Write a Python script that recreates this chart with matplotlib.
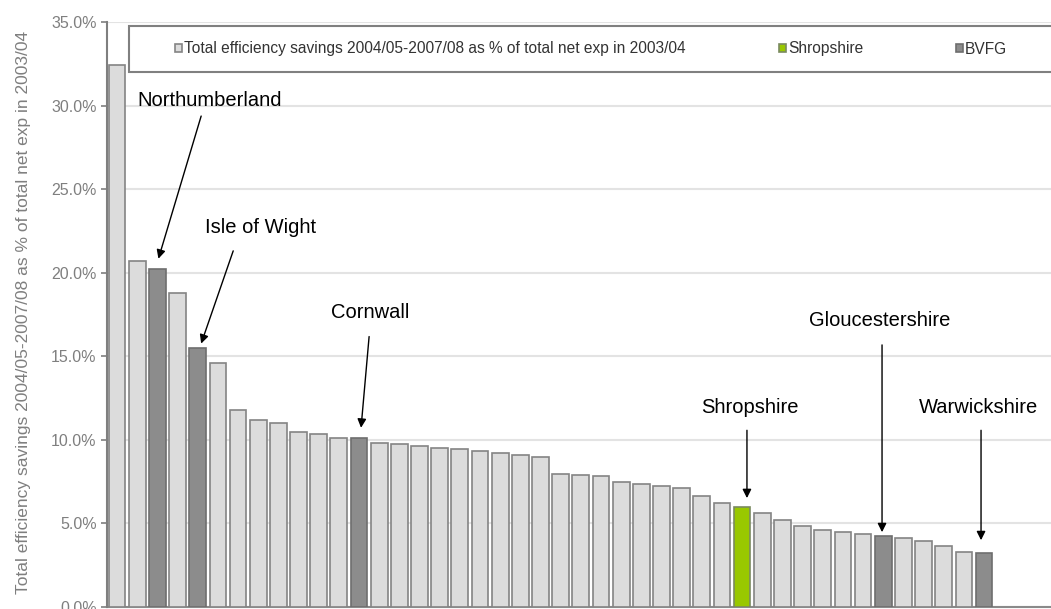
import matplotlib
matplotlib.use("Agg")
import matplotlib.pyplot as plt
from matplotlib.patches import Rectangle
from matplotlib.ticker import FuncFormatter

plt.rcParams['font.family'] = ['Liberation Sans', 'DejaVu Sans']

# efficiency savings 2004/05-2007/08 as % of net exp 2003/04, sorted
savings = [32.4, 20.7, 20.2, 18.8, 15.5, 14.6, 11.8, 11.15, 11.0, 10.45,
           10.35, 10.1, 10.1, 9.8, 9.72, 9.64, 9.52, 9.46, 9.3, 9.22,
           9.08, 8.95, 7.95, 7.87, 7.81, 7.45, 7.37, 7.25, 7.11, 6.61,
           6.18, 5.94, 5.62, 5.18, 4.82, 4.62, 4.48, 4.34, 4.26, 4.12,
           3.92, 3.63, 3.29, 3.19]
# group of each bar: 0 = all councils, 1 = Shropshire, 2 = BVFG
group = [0, 0, 2, 0, 2, 0, 0, 0, 0, 0,
         0, 0, 2, 0, 0, 0, 0, 0, 0, 0,
         0, 0, 0, 0, 0, 0, 0, 0, 0, 0,
         0, 1, 0, 0, 0, 0, 0, 0, 2, 0,
         0, 0, 0, 2]
series_names = ["Total efficiency savings 2004/05-2007/08 as % of total net exp in 2003/04",
                "Shropshire", "BVFG"]
yticks = [0, 5, 10, 15, 20, 25, 30, 35]

callouts = ["Northumberland", "Isle of Wight", "Cornwall",
            "Shropshire", "Gloucestershire", "Warwickshire"]

# layout of the callouts (data coords): label centre, arrow start, arrow tip
label_pos = [(4.6, 30.3), (7.1, 22.7), (12.56, 17.6),
             (31.4, 11.93), (37.84, 17.13), (42.72, 11.93)]
arrow_from = [(4.17, 29.37), (5.76, 21.3), (12.5, 16.17),
              (31.24, 10.56), (37.94, 15.67), (42.85, 10.56)]
arrow_to = [(2.05, 20.83), (4.17, 15.75), (12.1, 10.71),
            (31.24, 6.5), (37.94, 4.46), (42.85, 3.98)]

fill = ['#dcdcdc', '#99c800', '#8c8c8c']
edge = ['#848484', '#7a8a60', '#6e6e6e']

fig = plt.figure(figsize=(10.51, 6.09), dpi=100)
ax = fig.add_axes([107 / 1051, 2.3 / 609, 1 - 107 / 1051, 584.7 / 609])

for g in range(3):
    xs = [i for i in range(len(savings)) if group[i] == g]
    ys = [savings[i] for i in xs]
    ax.bar(xs, ys, width=0.83, color=fill[g], edgecolor=edge[g],
           linewidth=1.2, label=series_names[g], zorder=3)

ax.set_xlim(-0.5, 46.32)
ax.set_ylim(0, 35)
ax.set_yticks(yticks)
ax.yaxis.set_major_formatter(FuncFormatter(lambda v, p: f"{v:.1f}%"))
ax.set_xticks([])
ax.tick_params(axis='y', colors='#7f7f7f', labelsize=11.5, length=4,
               width=1.2, pad=3.5)
ax.yaxis.grid(True, color='#e3e3e3', linewidth=1.5, zorder=0)
for s in ['top', 'right']:
    ax.spines[s].set_visible(False)
ax.spines['left'].set_color('#7f7f7f')
ax.spines['left'].set_linewidth(1.5)
ax.spines['bottom'].set_color('#8a8a8a')
ax.spines['bottom'].set_linewidth(1.5)
ax.spines['left'].set_zorder(4)

ax.set_ylabel("Total efficiency savings 2004/05-2007/08 as % of total net exp in 2003/04",
              color='#7f7f7f', fontsize=12.5)
ax.yaxis.set_label_coords(-0.080, 0.504)

for name, lp, a0, a1 in zip(callouts, label_pos, arrow_from, arrow_to):
    ax.text(lp[0], lp[1], name, ha='center', va='center', fontsize=14.5,
            color='black', zorder=6)
    ax.annotate('', xy=a1, xytext=a0,
                arrowprops=dict(arrowstyle='-|>', color='black', lw=1.0,
                                mutation_scale=13, shrinkA=0, shrinkB=0),
                zorder=6)

# legend box (inside the axes so the legend draws on top of it)
box = Rectangle((129 / 1051, 1 - 72 / 609), 1.0, 46 / 609,
                transform=fig.transFigure, facecolor='white',
                edgecolor='#808080', linewidth=1.5, zorder=5, clip_on=False)
ax.add_patch(box)
leg = ax.legend(loc='center left', bbox_to_anchor=(175 / 1051, 1 - 49 / 609),
                bbox_transform=fig.transFigure, ncol=3, frameon=False,
                fontsize=11.2, handlelength=0.45, handleheight=0.45,
                handletextpad=0.15, columnspacing=5.95, borderpad=0,
                borderaxespad=0)
leg.set_zorder(7)
for t in leg.get_texts():
    t.set_color('#333333')

fig.savefig("out.png", dpi=100)
